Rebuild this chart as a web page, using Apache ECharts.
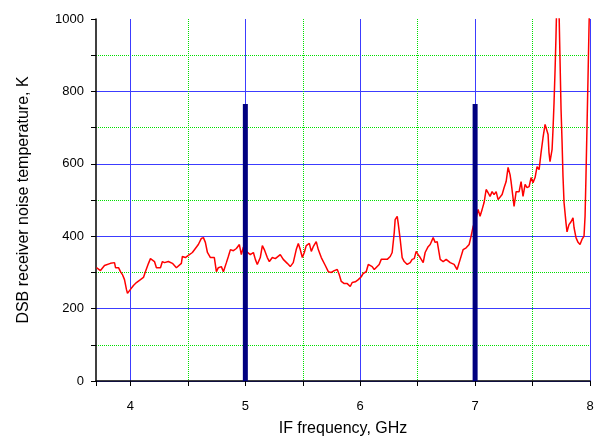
<!DOCTYPE html>
<html>
<head>
<meta charset="utf-8">
<script src="https://cdn.jsdelivr.net/npm/echarts@6/dist/echarts.min.js"></script>
<style>
  html, body { margin: 0; padding: 0; background: #fff; }
  #main { width: 594px; height: 437px; }
</style>
</head>
<body>
<div id="main"></div>
<script>
// IF frequency (GHz) and DSB noise temperature (K)
const freq = [3.704,3.739,3.774,3.826,3.861,3.870,3.896,3.913,3.930,3.948,3.965,3.974,4.000,4.026,4.052,4.087,4.113,4.130,4.157,4.174,4.191,4.209,4.226,4.243,4.261,4.278,4.296,4.330,4.365,4.400,4.417,4.443,4.452,4.478,4.504,4.539,4.565,4.591,4.617,4.635,4.652,4.670,4.696,4.730,4.748,4.765,4.791,4.809,4.835,4.852,4.870,4.896,4.922,4.948,4.965,4.983,5.000,5.017,5.043,5.070,5.087,5.104,5.130,5.148,5.165,5.191,5.209,5.235,5.261,5.304,5.330,5.365,5.391,5.417,5.443,5.461,5.478,5.496,5.513,5.530,5.557,5.574,5.591,5.617,5.635,5.661,5.678,5.696,5.722,5.748,5.774,5.800,5.817,5.835,5.861,5.887,5.913,5.930,5.957,5.983,6.009,6.026,6.052,6.070,6.087,6.104,6.122,6.139,6.165,6.183,6.209,6.235,6.261,6.278,6.296,6.304,6.322,6.330,6.348,6.365,6.383,6.409,6.435,6.452,6.470,6.487,6.504,6.522,6.548,6.565,6.591,6.609,6.635,6.652,6.670,6.696,6.722,6.748,6.783,6.817,6.843,6.870,6.896,6.922,6.948,6.965,6.983,7.009,7.026,7.043,7.061,7.078,7.096,7.113,7.130,7.148,7.165,7.183,7.200,7.217,7.235,7.252,7.270,7.287,7.304,7.313,7.330,7.339,7.357,7.383,7.400,7.417,7.435,7.452,7.470,7.487,7.504,7.522,7.539,7.557,7.574,7.591,7.609,7.626,7.635,7.643,7.652,7.670,7.678,7.687,7.696,7.704,7.713,7.722,7.730,7.739,7.748,7.757,7.765,7.774,7.791,7.800,7.817,7.835,7.852,7.861,7.878,7.896,7.913,7.930,7.948,7.957,7.965,7.974,7.983,7.991,8.000];
const temp = [313,305,319,325,327,313,313,302,294,280,253,242,253,264,272,280,286,302,325,338,341,330,313,308,313,330,327,330,325,313,310,325,344,341,347,355,366,377,394,396,383,355,341,341,302,313,316,302,327,344,363,360,366,377,349,370,360,355,349,355,336,322,341,374,363,341,330,341,338,349,336,325,316,327,363,380,363,341,355,374,380,358,371,385,363,341,336,319,302,300,305,308,294,275,269,269,261,272,274,280,288,297,302,322,327,316,308,313,322,336,336,336,344,355,410,446,455,437,391,341,330,322,327,336,338,358,349,341,327,355,371,377,396,383,385,336,330,336,327,322,308,336,363,368,377,400,427,450,474,455,474,493,529,520,510,523,515,523,501,506,515,534,551,590,570,551,506,482,523,523,551,510,543,534,537,562,548,562,592,584,631,672,709,706,681,631,606,640,695,769,860,952,1080,1150,1030,888,750,659,565,493,437,412,432,440,451,424,396,383,377,391,400,455,565,703,842,971,1100];

// the two thick markers
const markerFreq = [5, 7];
const markerTemp = [765, 765];

const blue = '#3c3cff';
const green = '#00e000';

const chart = echarts.init(document.getElementById('main'));
chart.setOption({
  animation: false,
  textStyle: { fontFamily: 'Liberation Sans, Arial, sans-serif' },
  grid: { left: 96, right: 4, top: 19, bottom: 56, outerBoundsMode: 'none' },
  xAxis: {
    type: 'value',
    min: 3.7,
    max: 8,
    splitNumber: 4,
    name: 'IF frequency, GHz',
    nameLocation: 'middle',
    nameGap: 40,
    nameTextStyle: { fontSize: 16, color: '#000' },
    axisLine: { lineStyle: { color: '#000', width: 1.5 } },
    axisTick: { length: 5, lineStyle: { color: '#000' } },
    minorTick: { show: true, splitNumber: 2, length: 5, lineStyle: { color: '#000' } },
    axisLabel: {
      fontSize: 13, color: '#000', margin: 19,
      formatter: v => Number.isInteger(v) ? String(v) : ''
    },
    splitLine: { show: true, showMinLine: false, lineStyle: { color: blue, width: 1 } },
    minorSplitLine: { show: true, lineStyle: { color: green, type: 'dotted', width: 1 } }
  },
  yAxis: {
    type: 'value',
    min: 0,
    max: 1000,
    interval: 200,
    name: 'DSB receiver noise temperature, K',
    nameLocation: 'middle',
    nameGap: 64,
    nameTextStyle: { fontSize: 16, color: '#000' },
    axisLine: { show: true, lineStyle: { color: '#000', width: 1.5 } },
    axisTick: { show: true, length: 5, lineStyle: { color: '#000' } },
    minorTick: { show: true, splitNumber: 2, length: 5, lineStyle: { color: '#000' } },
    axisLabel: { fontSize: 13, color: '#000', margin: 12, formatter: v => String(v) },
    splitLine: { show: true, showMaxLine: false, lineStyle: { color: blue, width: 1 } },
    minorSplitLine: { show: true, lineStyle: { color: green, type: 'dotted', width: 1 } }
  },
  series: [
    {
      type: 'line',
      data: freq.map((f, i) => [f, temp[i]]),
      showSymbol: false,
      clip: true,
      lineStyle: { color: '#ff0000', width: 1.5 },
      z: 3
    },
    {
      type: 'bar',
      data: markerFreq.map((f, i) => [f, markerTemp[i]]),
      barWidth: 5,
      itemStyle: { color: '#000080' },
      z: 4
    }
  ]
});
</script>
</body>
</html>
